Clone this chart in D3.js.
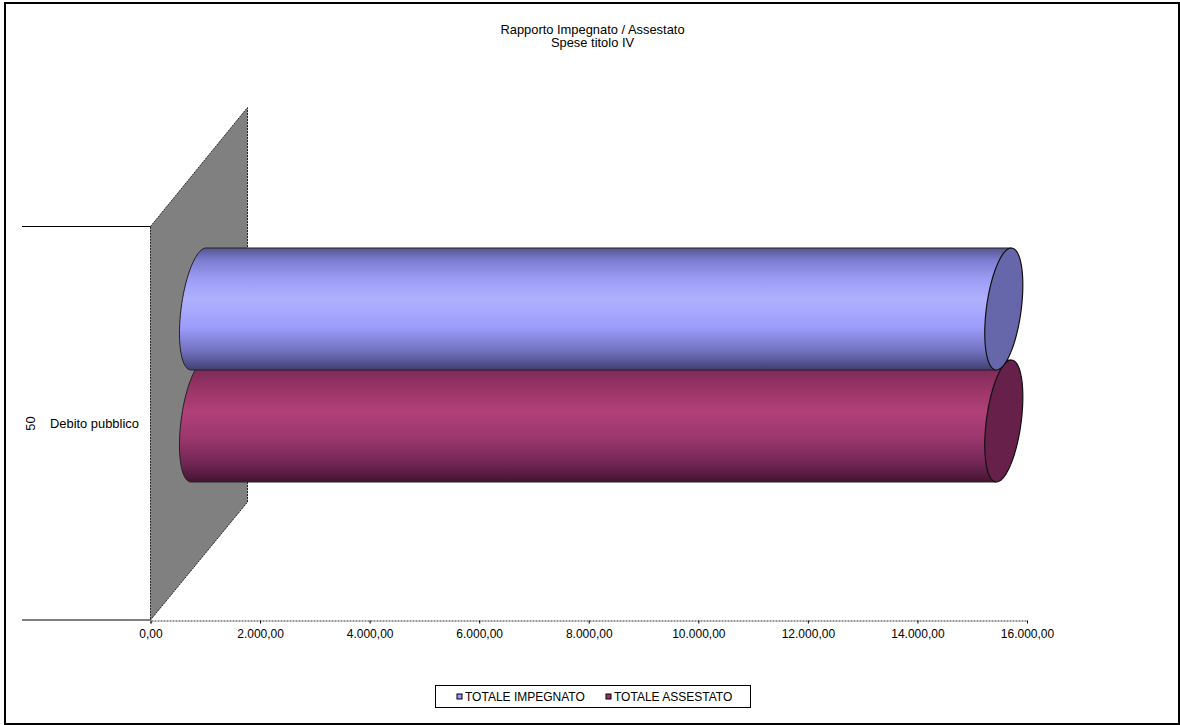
<!DOCTYPE html>
<html><head><meta charset="utf-8"><script src="https://cdn.jsdelivr.net/npm/d3@7"></script>
<style>html,body{margin:0;padding:0;background:#fff}svg{display:block}text{font-family:"Liberation Sans",Arial,sans-serif;font-size:12px;fill:#000}.big{font-size:12.9px}</style></head><body><div id="c"></div>
<script>
const titleLines=["Rapporto Impegnato / Assestato","Spese titolo IV"];
const seriesNames=["TOTALE IMPEGNATO","TOTALE ASSESTATO"];
const seriesValues=[14700,14700];
const seriesDark=["#6666aa","#66204a"];
const seriesSwatch=["#9999ff","#993366"];
const gradStops=[
 [[0,"#55558f"],[0.1,"#7c7cd0"],[0.25,"#9c9cf6"],[0.42,"#b0b0ff"],[0.65,"#9c9cfc"],[0.85,"#7070bc"],[1,"#3f3f70"]],
 [[0,"#5c1c40"],[0.1,"#822c5c"],[0.25,"#9c3568"],[0.42,"#b04078"],[0.65,"#9a366c"],[0.85,"#702654"],[1,"#45142f"]]];
const tickValues=[0,2000,4000,6000,8000,10000,12000,14000,16000];
const catCode="50",catName="Debito pubblico";
const W=1180,H=725;
const svg=d3.select("#c").append("svg").attr("width",W).attr("height",H);
const fmt=d3.formatLocale({decimal:",",thousands:".",grouping:[3],currency:["",""]}).format(",.2f");
const x=d3.scaleLinear().domain([0,16000]).range([150.5,1027]);
const y=d3.scalePoint().domain([0,1]).range([309,421]);
const depth=48,tilt=7.5,rx=17.5,B=61;
svg.append("rect").attr("x",5).attr("y",3).attr("width",1174).attr("height",721).attr("fill","#fff").attr("stroke","#000").attr("stroke-width",2);
svg.selectAll("text.t").data(titleLines).join("text").attr("class","t big").attr("x",592.5).attr("y",(d,i)=>34+i*13).attr("text-anchor","middle").text(d=>d);
svg.append("path").attr("d","M150.5,226.5L247.5,107.5V502L150.5,620Z").attr("fill","#808080").attr("stroke","#222").attr("stroke-width",1).attr("stroke-dasharray","2 1");
[226.5,620].forEach(v=>svg.append("line").attr("x1",22).attr("x2",150.5).attr("y1",v).attr("y2",v).attr("stroke","#000"));
const axis=svg.append("g").attr("transform","translate(0,620.5)").call(d3.axisBottom(x).tickValues(tickValues).tickFormat(fmt).tickSize(3).tickPadding(3));
axis.select(".domain").attr("stroke","#333").attr("stroke-dasharray","2 1");
axis.selectAll("text").attr("font-size",null).attr("font-family",null).attr("y",9);
const defs=svg.append("defs");
gradStops.forEach((s,i)=>{const g=defs.append("linearGradient").attr("id","g"+i).attr("x1",0).attr("x2",0).attr("y1",0).attr("y2",1);
 s.forEach(p=>g.append("stop").attr("offset",p[0]).attr("stop-color",p[1]));});
const ell=(cx,cy,from,to)=>d3.range(from,to+1,5).map(a=>{const t=a*Math.PI/180;return [cx+rx*Math.cos(t)-tilt*Math.sin(t),cy+B*Math.sin(t)];});
[1,0].forEach(i=>{
 const cy=y(i);
 const c0=x(0)+depth,c1=x(seriesValues[i])+depth;
 const start=ell(c0,cy,90,270);
 const pts=[...start,[c1+tilt,cy-B],[c1-tilt,cy+B]];
 svg.append("path").attr("d",d3.line()(pts)+"Z").attr("fill",`url(#g${i})`).attr("stroke","#222").attr("stroke-width",1);
 svg.append("path").attr("d",d3.line()(ell(c1,cy,0,355))+"Z").attr("fill",seriesDark[i]).attr("stroke","#111").attr("stroke-width",1.2);
});
svg.append("text").attr("class","big").attr("transform","translate(35,423.5) rotate(-90)").attr("text-anchor","middle").text(catCode);
svg.append("text").attr("class","big").attr("x",50).attr("y",428).text(catName);
svg.append("rect").attr("x",435.5).attr("y",685.5).attr("width",315).attr("height",22).attr("fill","#fff").attr("stroke","#000");
const lx=[457,606];
seriesNames.forEach((n,i)=>{
 svg.append("rect").attr("x",lx[i]).attr("y",694).attr("width",5).attr("height",5).attr("fill",seriesSwatch[i]).attr("stroke","#000");
 svg.append("text").attr("x",lx[i]+8).attr("y",700.5).text(n);
});
</script></body></html>
